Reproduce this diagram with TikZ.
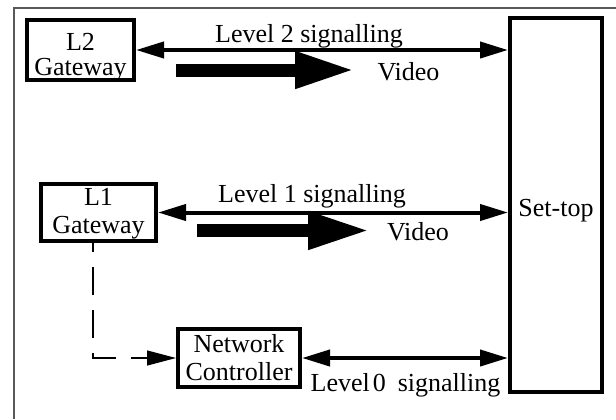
\documentclass[tikz,border=0pt]{standalone}
\usepackage{fontspec}
\setmainfont{Liberation Serif}
\usetikzlibrary{arrows.meta}
\begin{document}
\begin{tikzpicture}[x=0.5pt,y=-0.5pt, font=\fontsize{13}{14}\selectfont,
  box/.style={draw, line width=2pt, inner sep=0pt, align=center},
  sig/.style={line width=2pt, {Triangle[length=14pt,width=8pt]}-{Triangle[length=14pt,width=8pt]}},
  fat/.style={line width=6.5pt, -{Triangle[length=30pt,width=17pt]}},
  lbl/.style={anchor=base, inner sep=0pt}]
\useasboundingbox (0,0) rectangle (616,419);
\draw[line width=1pt, black!65] (14,419) -- (14,8) -- (616,8);

\node[box, minimum width=53.5pt, minimum height=30pt, text height=27pt, text depth=2pt, font=\fontsize{13}{12.5}\selectfont] (l2) at (80.5,50) {L2\\Gateway};
\node[box, minimum width=57.5pt, minimum height=28.5pt, text height=22.5pt, text depth=2pt] (l1) at (98.5,212.5) {L1\\Gateway};
\node[box, minimum width=61pt, minimum height=29pt, text height=24pt, text depth=2pt] (nc) at (239,358) {Network\\Controller};
\node[box, minimum width=46pt, minimum height=187pt, text height=20pt, text depth=9pt] (st) at (556,205) {Set-top};

\draw[sig] (l2.east) -- (l2.east -| st.west);
\draw[sig] (l1.east) -- (l1.east -| st.west);
\draw[sig] (nc.east) -- (nc.east -| st.west);

\node[lbl] (t2) at (309,42) {Level 2 signalling};
\node[lbl] (t1) at (312,202) {Level 1 signalling};
\node[lbl] (t0) at (405.5,391) {Level\hspace{1.5pt}0\hspace{6pt}signalling};

\coordinate (v2a) at (176,70);
\coordinate (v2b) at (355,70);
\draw[fat] (v2a) -- (v2b);
\node[lbl] (v2t) at (408.5,80) {Video};

\coordinate (v1a) at (197,230.5);
\coordinate (v1b) at (370,230.5);
\draw[fat, -{Triangle[length=31pt,width=17.5pt]}] (v1a) -- (v1b);
\node[lbl] (v1t) at (418,240) {Video};

\draw[line width=0.6pt, dash pattern=on 14pt off 7.5pt, dash phase=9.5pt, -{Triangle[length=14.5pt,width=7.5pt]}] ([xshift=-2.75pt]l1.south) |- (nc.west);
\end{tikzpicture}
\end{document}
